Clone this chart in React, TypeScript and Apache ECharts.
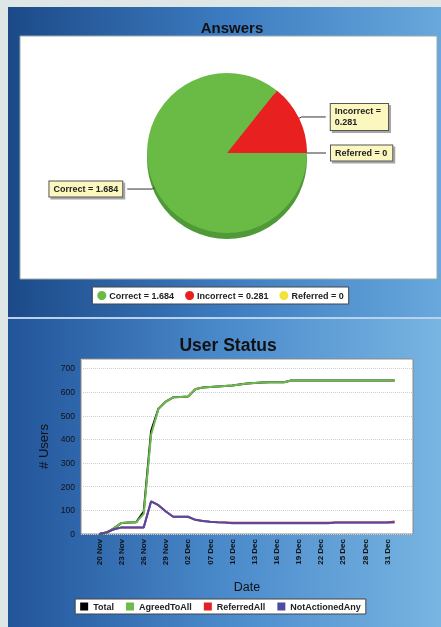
import React, { useEffect, useRef } from 'react';
import * as echarts from 'echarts';

// ---------- Answers (pie) ----------
const pieNames = ['Referred', 'Incorrect', 'Correct'];
const pieValues = [0, 0.281, 1.684];
const pieColors = ['#f2e23a', '#e82020', '#6abb46'];
const pieLegendOrder = ['Correct', 'Incorrect', 'Referred'];

// ---------- User Status (lines) ----------
const dates = [
  '18 Nov', '19 Nov', '20 Nov', '21 Nov', '22 Nov', '23 Nov', '24 Nov', '25 Nov', '26 Nov', '27 Nov',
  '28 Nov', '29 Nov', '30 Nov', '01 Dec', '02 Dec', '05 Dec', '06 Dec', '07 Dec', '08 Dec', '09 Dec',
  '10 Dec', '11 Dec', '12 Dec', '13 Dec', '14 Dec', '15 Dec', '16 Dec', '17 Dec', '18 Dec', '19 Dec',
  '20 Dec', '21 Dec', '22 Dec', '23 Dec', '24 Dec', '25 Dec', '26 Dec', '27 Dec', '28 Dec', '29 Dec',
  '30 Dec', '31 Dec', '01 Jan', '02 Jan', '03 Jan',
];
const total = [
  null, null, 0, 5, 25, 47, 49, 50, 95, 435,
  530, 560, 578, 579, 581, 612, 620, 622, 624, 626,
  628, 632, 636, 639, 641, 642, 642, 642, 649, 649,
  649, 649, 649, 649, 649, 649, 649, 649, 649, 649,
  649, 649, 649, null, null,
];
const agreedToAll = [
  null, null, 0, 5, 25, 47, 49, 50, 85, 420,
  530, 560, 578, 579, 581, 612, 620, 622, 624, 626,
  628, 632, 636, 639, 641, 642, 642, 642, 649, 649,
  649, 649, 649, 649, 649, 649, 649, 649, 649, 649,
  649, 649, 649, null, null,
];
const referredAll = [
  null, null, 0, 8, 20, 28, 28, 28, 28, 138,
  122, 95, 73, 73, 73, 60, 55, 52, 50, 49,
  48, 48, 48, 48, 48, 48, 48, 48, 48, 48,
  48, 48, 48, 48, 49, 49, 49, 49, 49, 49,
  49, 49, 53, null, null,
];
const notActionedAny = [
  null, null, 0, 8, 20, 28, 28, 28, 28, 138,
  122, 95, 73, 73, 73, 60, 55, 52, 50, 49,
  45, 45, 45, 45, 45, 45, 45, 45, 45, 45,
  45, 45, 45, 45, 49, 49, 49, 49, 49, 49,
  49, 49, 49, null, null,
];
const lineNames = ['Total', 'AgreedToAll', 'ReferredAll', 'NotActionedAny'];
const lineColors = ['#000000', '#6cbb4c', '#e02222', '#4c4ca8'];
const lineData = [total, agreedToAll, referredAll, notActionedAny];
const yMax = 740;
const yInterval = 100;

const FONT = '"Liberation Sans", Arial, sans-serif';

export default function App() {
  const ref = useRef<HTMLDivElement>(null);

  useEffect(() => {
    if (!ref.current) return;
    const chart = echarts.init(ref.current, undefined, { renderer: 'svg' });

    const panelGrad = (c0: string, c1: string, c2: string) =>
      new echarts.graphic.LinearGradient(0, 0, 1, 0, [
        { offset: 0, color: c0 },
        { offset: 0.5, color: c1 },
        { offset: 1, color: c2 },
      ]);

    const labelFor = (i: number) => {
      const base: any = {
        show: true,
        position: 'outside',
        alignTo: 'none',
        fontFamily: FONT,
        fontSize: 9,
        fontWeight: 'bold',
        color: '#222',
        backgroundColor: '#fbf7bf',
        borderColor: '#555',
        borderWidth: 1,
        padding: [2, 4],
        lineHeight: 11,
        shadowColor: 'rgba(0,0,0,0.35)',
        shadowOffsetX: 2,
        shadowOffsetY: 2,
        shadowBlur: 1,
      };
      if (pieNames[i] === 'Incorrect') {
        return { ...base, formatter: '{b} =\n{c}', padding: [2, 7, 2, 4] };
      }
      if (pieNames[i] === 'Referred') {
        return { ...base, formatter: '{b} = {c}', padding: [2, 5, 2, 4] };
      }
      return { ...base, formatter: '{b} = {c}' };
    };
    const lineLen: Record<string, [number, number]> = {
      Referred: [3, 16],
      Incorrect: [3, 24],
      Correct: [3, 25],
    };

    const pieCommon = {
      type: 'pie',
      radius: 80,
      startAngle: 0,
      clockwise: false,
      avoidLabelOverlap: false,
      minShowLabelAngle: 0,
      emphasis: { disabled: true },
    };

    const option: any = {
      animation: false,
      textStyle: { fontFamily: FONT },
      graphic: {
        elements: [
          { type: 'rect', z: -100, shape: { x: 0, y: 0, width: 441, height: 627 }, style: { fill: '#dfe6e6' } },
          { type: 'rect', z: -99, shape: { x: 8, y: 7, width: 433, height: 310 }, style: { fill: panelGrad('#1c4a88', '#3c7bc0', '#68a8dc') } },
          { type: 'rect', z: -99, shape: { x: 8, y: 317, width: 433, height: 2 }, style: { fill: '#b9d2ea' } },
          { type: 'rect', z: -99, shape: { x: 8, y: 319, width: 433, height: 308 }, style: { fill: panelGrad('#22549a', '#4a8acb', '#78b5e2') } },
          { type: 'rect', z: -98, shape: { x: 20, y: 36, width: 417, height: 243 }, style: { fill: '#ffffff', stroke: '#9aa', lineWidth: 1 } },
        ],
      },
      title: [
        {
          text: 'Answers',
          left: 227,
          top: 15,
          textAlign: 'center',
          textStyle: { fontFamily: FONT, fontSize: 15, fontWeight: 'bold', color: '#111' },
        },
        {
          text: 'User Status',
          left: 223,
          top: 331,
          textAlign: 'center',
          textStyle: { fontFamily: FONT, fontSize: 17.5, fontWeight: 'bold', color: '#111' },
        },
      ],
      legend: [
        {
          data: pieLegendOrder,
          left: 'center',
          top: 287,
          orient: 'horizontal',
          icon: 'circle',
          itemWidth: 9,
          itemHeight: 9,
          itemGap: 11,
          padding: [4, 5],
          backgroundColor: '#ffffff',
          borderColor: '#444',
          borderWidth: 1,
          formatter: (name: string) => `${name} = ${pieValues[pieNames.indexOf(name)]}`,
          textStyle: { fontFamily: FONT, fontSize: 9, fontWeight: 'bold', color: '#222', padding: [0, 0, 0, -2] },
        },
        {
          data: lineNames,
          left: 'center',
          top: 599,
          orient: 'horizontal',
          icon: 'rect',
          itemWidth: 8,
          itemHeight: 8,
          itemGap: 12,
          padding: [3, 5],
          backgroundColor: '#ffffff',
          borderColor: '#444',
          borderWidth: 1,
          textStyle: { fontFamily: FONT, fontSize: 9, fontWeight: 'bold', color: '#222' },
        },
      ],
      grid: {
        left: 81,
        top: 359,
        width: 332,
        height: 175,
        show: true,
        backgroundColor: '#ffffff',
        borderColor: '#888',
        borderWidth: 1,
      },
      xAxis: {
        type: 'category',
        data: dates,
        boundaryGap: true,
        name: 'Date',
        nameLocation: 'middle',
        nameGap: 46,
        nameTextStyle: { fontFamily: FONT, fontSize: 12.5, color: '#111' },
        axisLine: { show: false },
        axisTick: { show: false },
        axisLabel: {
          rotate: 90,
          interval: (i: number) => i >= 2 && i <= 41 && (i - 2) % 3 === 0,
          fontFamily: FONT,
          fontSize: 8,
          fontWeight: 'bold',
          color: '#111',
          margin: 5,
        },
        splitLine: { show: false },
      },
      yAxis: {
        type: 'value',
        min: 0,
        max: yMax,
        interval: yInterval,
        name: '# Users',
        nameLocation: 'middle',
        nameGap: 28,
        nameTextStyle: { fontFamily: FONT, fontSize: 13, color: '#111' },
        axisLine: { show: false },
        axisTick: { show: false },
        axisLabel: { fontFamily: FONT, fontSize: 8.5, color: '#111', margin: 6, showMaxLabel: false },
        splitLine: { show: true, lineStyle: { color: '#cfcfcf', type: 'dotted', width: 1 } },
      },
      series: [
        {
          ...pieCommon,
          name: 'Answers',
          center: [227, 153],
          z: 3,
          itemStyle: { borderWidth: 0 },
          data: pieNames.map((n, i) => ({
            name: n,
            value: pieValues[i],
            itemStyle: { color: pieColors[i] },
            label: labelFor(i),
            labelLine: {
              show: true,
              length: lineLen[n][0],
              length2: lineLen[n][1],
              smooth: false,
              lineStyle: { color: '#333', width: 1 },
            },
          })),
        },
        {
          ...pieCommon,
          name: 'AnswersDepth',
          center: [227, 159],
          z: 2,
          silent: true,
          label: { show: false },
          labelLine: { show: false },
          itemStyle: { color: '#4f9a37', borderWidth: 0 },
          data: pieNames.map((n, i) => ({ name: n, value: pieValues[i] })),
        },
        ...lineNames.map((n, i) => ({
          name: n,
          type: 'line',
          data: lineData[i],
          showSymbol: false,
          symbol: 'none',
          connectNulls: false,
          lineStyle: { color: lineColors[i], width: 2 },
          itemStyle: { color: lineColors[i] },
          emphasis: { disabled: true },
          z: 3 + i,
        })),
      ],
    };

    chart.setOption(option);
    return () => chart.dispose();
  }, []);

  return (
    <div
      ref={ref}
      style={{ position: 'fixed', left: 0, top: 0, width: 441, height: 627 }}
    />
  );
}
